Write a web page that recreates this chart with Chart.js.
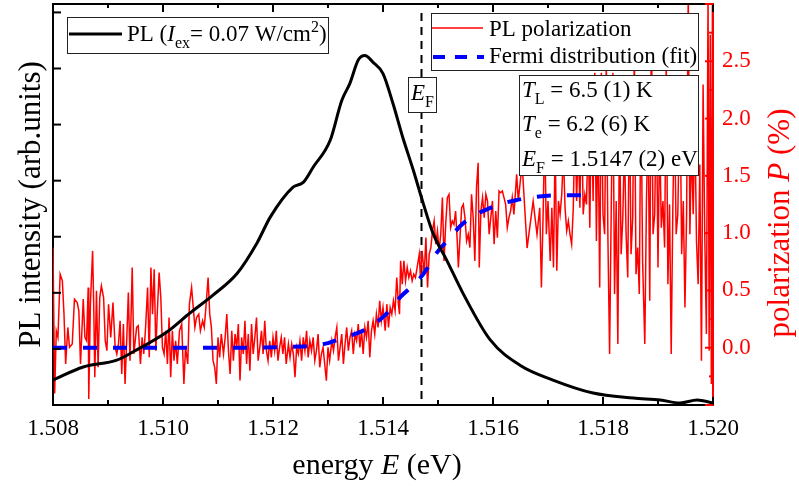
<!DOCTYPE html>
<html>
<head>
<meta charset="utf-8">
<script src="https://cdn.jsdelivr.net/npm/chart.js@4.4.1/dist/chart.umd.min.js"></script>
<style>
  html, body { margin: 0; padding: 0; background: #fff; }
  canvas { display: block; }
</style>
</head>
<body>
<canvas id="chart" width="799" height="486"></canvas>
<script>
// PL spectrum (left axis, arb. units)
const plEnergy = [
  1.50800, 1.50855, 1.50916, 1.50945, 1.51007, 1.51049, 1.51091, 1.51135, 1.51171, 1.51195,
  1.51236, 1.51255, 1.51273, 1.51304, 1.51325, 1.51340, 1.51355, 1.51367, 1.51382, 1.51400,
  1.51418, 1.51436, 1.51455, 1.51473, 1.51491, 1.51516, 1.51545, 1.51595, 1.51649, 1.51709,
  1.51782, 1.51855, 1.51904, 1.51940, 1.51971, 1.52000
];
const plIntensity = [
  0.445, 0.677, 0.80, 0.944, 1.30, 1.64, 1.96, 2.35, 2.89, 3.35,
  3.88, 3.97, 4.24, 4.72, 5.43, 5.74, 6.15, 6.23, 6.11, 5.91,
  5.38, 4.77, 4.19, 3.60, 3.06, 2.58, 2.00, 1.16, 0.71, 0.445,
  0.214, 0.125, 0.089, 0.036, 0.089, 0.036
];

// PL polarization (right axis, %)
const polEnergy = [
  1.50800, 1.50803, 1.50806, 1.50809, 1.50813, 1.50817, 1.50820, 1.50823, 1.50827, 1.50830,
  1.50835, 1.50839, 1.50844, 1.50847, 1.50850, 1.50855, 1.50858, 1.50861, 1.50864, 1.50865,
  1.50868, 1.50872, 1.50874, 1.50876, 1.50879, 1.50882, 1.50885, 1.50888, 1.50892, 1.50895,
  1.50898, 1.50901, 1.50905, 1.50909, 1.50913, 1.50916, 1.50919, 1.50922, 1.50925, 1.50928,
  1.50931, 1.50934, 1.50937, 1.50940, 1.50944, 1.50947, 1.50952, 1.50955, 1.50959, 1.50962,
  1.50965, 1.50968, 1.50972, 1.50975, 1.50978, 1.50981, 1.50984, 1.50987, 1.50990, 1.50993,
  1.50996, 1.50999, 1.51002, 1.51005, 1.51008, 1.51011, 1.51014, 1.51017, 1.51020, 1.51023,
  1.51026, 1.51030, 1.51034, 1.51038, 1.51041, 1.51045, 1.51048, 1.51052, 1.51055, 1.51058,
  1.51061, 1.51065, 1.51068, 1.51072, 1.51075, 1.51078, 1.51082, 1.51085, 1.51088, 1.51091,
  1.51094, 1.51097, 1.51100, 1.51103, 1.51106,
  1.51110, 1.51113, 1.51116, 1.51119, 1.51122, 1.51125, 1.51128, 1.51131, 1.51134, 1.51137,
  1.51140, 1.51143, 1.51146, 1.51149, 1.51152, 1.51155, 1.51158, 1.51161, 1.51164, 1.51167,
  1.51170, 1.51173, 1.51176, 1.51179, 1.51182, 1.51185, 1.51188, 1.51191, 1.51194, 1.51197,
  1.51200, 1.51203, 1.51206, 1.51209, 1.51212, 1.51215, 1.51218, 1.51221, 1.51224, 1.51228,
  1.51231, 1.51234, 1.51237, 1.51240, 1.51243, 1.51246, 1.51249, 1.51252, 1.51255, 1.51258,
  1.51261, 1.51264, 1.51267, 1.51270, 1.51273, 1.51276, 1.51279, 1.51282, 1.51285, 1.51288,
  1.51291, 1.51294, 1.51297, 1.51300, 1.51303, 1.51307, 1.51310, 1.51313, 1.51316, 1.51319,
  1.51322, 1.51325, 1.51328, 1.51331, 1.51334, 1.51337, 1.51340, 1.51343, 1.51346, 1.51349,
  1.51352, 1.51355, 1.51358, 1.51361, 1.51364, 1.51367, 1.51370, 1.51373, 1.51376, 1.51379,
  1.51382, 1.51385, 1.51388, 1.51391, 1.51394, 1.51397, 1.51400, 1.51404, 1.51407, 1.51410,
  1.51413, 1.51416, 1.51419, 1.51422, 1.51425, 1.51428, 1.51430, 1.51432, 1.51435, 1.51438,
  1.51441, 1.51444, 1.51447, 1.51450, 1.51453, 1.51456, 1.51459, 1.51462, 1.51466, 1.51468,
  1.51471, 1.51475, 1.51478, 1.51481, 1.51484, 1.51487, 1.51490, 1.51493, 1.51496, 1.51499,
  1.51502, 1.51505, 1.51508, 1.51511, 1.51514, 1.51517, 1.51520, 1.51523, 1.51526, 1.51529,
  1.51532, 1.51535, 1.51537, 1.51540, 1.51543, 1.51546, 1.51549, 1.51552, 1.51555, 1.51558,
  1.51561, 1.51564, 1.51567, 1.51570, 1.51573, 1.51575, 1.51578, 1.51581, 1.51584, 1.51587,
  1.51590, 1.51593, 1.51596, 1.51599, 1.51602, 1.51605, 1.51608, 1.51611, 1.51614, 1.51617,
  1.51620, 1.51623, 1.51626, 1.51629, 1.51632, 1.51635, 1.51638, 1.51641, 1.51643, 1.51646,
  1.51649, 1.51653, 1.51662, 1.51673, 1.51680,
  1.51685, 1.51688, 1.51691, 1.51694, 1.51697, 1.51700, 1.51704, 1.51707, 1.51710, 1.51713,
  1.51716, 1.51719, 1.51722, 1.51725, 1.51728, 1.51731, 1.51734, 1.51737, 1.51740, 1.51743,
  1.51746, 1.51749, 1.51752, 1.51755, 1.51758, 1.51761, 1.51764, 1.51767, 1.51770, 1.51773,
  1.51776, 1.51779, 1.51782, 1.51785, 1.51788, 1.51791, 1.51794, 1.51797, 1.51800, 1.51803,
  1.51806, 1.51809, 1.51812, 1.51815, 1.51818, 1.51821, 1.51824, 1.51827, 1.51830, 1.51833,
  1.51836, 1.51839, 1.51842, 1.51845, 1.51848, 1.51851, 1.51854, 1.51857, 1.51860, 1.51863,
  1.51866, 1.51869, 1.51872, 1.51876, 1.51879, 1.51882, 1.51885, 1.51888, 1.51891, 1.51894,
  1.51897, 1.51900, 1.51903, 1.51906, 1.51909, 1.51912, 1.51915, 1.51918, 1.51921, 1.51924,
  1.51927, 1.51930, 1.51933, 1.51936, 1.51940, 1.51943, 1.51946, 1.51949, 1.51952, 1.51955,
  1.51958, 1.51961, 1.51964, 1.51967, 1.51970, 1.51973, 1.51976, 1.51979, 1.51982, 1.51985,
  1.51988, 1.51991, 1.51993, 1.51995, 1.51997, 1.51999, 1.52000
];
const polValue = [
  0.874, -0.400, 0.148, 0.090, 0.642, 0.584, 0.293, -0.142, 0.177, 0.003,
  0.032, 0.424, 0.395, 0.322, -0.142, 0.424, 0.090, 0.061, 0.526, -0.447,
  0.380, 0.845, 0.380, -0.258, 0.497, -0.171, 0.438, 0.540, 0.438, 0.061,
  -0.026, 0.380, 0.090, 0.395, 0.003, -0.055, 0.032, 0.235, -0.229, 0.206,
  -0.316, 0.061, 0.482, -0.113, 0.700, -0.055, 0.177, 0.192, -0.142, 0.090,
  -0.055, 0.148, 0.526, -0.084, 0.700, 0.293, 0.685, -0.026, 0.351, 0.656,
  0.438, 0.003, -0.055, 0.148, -0.142, 0.264, -0.258, 0.148, -0.113, 0.061,
  -0.142, 0.148, 0.206, -0.316, 0.003, -0.142, 0.380, 0.526, 0.351, 0.177,
  0.264, 0.293, 0.148, 0.235, 0.177, 0.351, 0.613, 0.293, 0.177, -0.113,
  -0.171, -0.316, 0.090, -0.084, 0.119,
  -0.055, 0.090, 0.293, -0.026, -0.229, 0.148, -0.113, 0.119, 0.003, 0.206,
  -0.287, 0.090, -0.055, 0.235, -0.142, 0.119, -0.200, 0.206, -0.055, 0.090,
  0.264, -0.113, 0.003, 0.148, -0.055, 0.235, -0.026, -0.113, 0.061, -0.084,
  0.090, -0.026, 0.148, -0.113, 0.003, 0.090, -0.055, 0.090, -0.142, 0.032,
  -0.084, 0.032, -0.055, -0.258, 0.003, -0.055, 0.061, -0.113, 0.090, -0.026,
  0.148, -0.084, 0.061, -0.026, 0.090, -0.113, -0.026, 0.119, -0.171, -0.055,
  0.003, -0.142, -0.287, 0.003, -0.113, 0.061, -0.026, 0.090, 0.177, -0.113,
  0.003, 0.119, -0.142, 0.032, 0.177, -0.026, 0.090, 0.148, -0.055, 0.119,
  0.061, 0.206, 0.003, 0.148, -0.055, 0.177, 0.090, 0.235, -0.084, 0.148,
  0.235, 0.119, 0.293, 0.177, 0.409, 0.235, 0.351, 0.148, 0.380, 0.177,
  0.351, 0.293, 0.409, 0.322, 0.613, 0.380, 0.293, 0.758, 0.555, 0.758,
  0.584, 0.700, 0.613, 0.671, 0.584, 0.642, 0.613, 0.700, 0.816, 0.613,
  0.845, 0.642, 0.961, 0.526, 0.816, 0.874, 1.019, 1.106, 0.903, 1.019,
  0.845, 0.990, 1.310, 0.758, 1.077, 1.310, 1.339, 1.048, 1.106, 1.077,
  1.193, 0.932, 0.700, 0.961, 1.222, 1.251, 1.135, 0.932, 0.990, 0.874,
  1.339, 1.135, 0.758, 1.397, 1.614, 0.700, 1.193, 1.310, 1.135, 1.339,
  1.281, 0.990, 1.135, 1.281, 0.903, 1.193, 0.961, 1.368, 1.353, 1.368,
  1.310, 1.251, 1.048, 1.135, 1.193, 1.310, 1.164, 1.368, 1.513, 1.281,
  1.426, 1.600, 0.870, 1.280, 0.990,
  1.222, 0.526, 1.135, 1.900, 0.990, 1.281, 0.758, 1.222, 0.700, 1.800,
  0.671, 1.281, 1.164, 1.339, 1.700, 1.222, 1.019, 1.106, 0.990, 0.903,
  1.222, 2.000, 1.281, 1.800, 1.222, 2.100, 1.164, 1.339, 1.251, 1.900,
  1.048, 2.200, 1.281, 2.400, 0.932, 2.000, 0.526, 2.400, 1.164, 0.990,
  2.500, 0.932, -0.055, 1.222, 2.400, 0.468, 1.281, 0.032, 2.000, 0.816,
  1.135, 1.800, 0.990, 0.613, 2.200, 0.816, 1.135, 2.600, 0.642, 0.874,
  0.468, 2.300, 0.758, 0.032, 1.281, 2.000, 0.409, 2.900, 0.990, 1.164,
  2.200, 0.700, 1.900, 1.048, 1.281, 0.874, 2.500, 0.555, 1.251, -0.055,
  1.222, 2.100, 0.990, 1.164, 2.300, 0.816, 1.281, 0.351, 1.164, 3.100,
  0.990, 1.800, 1.164, 2.000, 0.932, 0.555, 1.600, -0.113, 2.297, 0.990,
  0.119, 3.100, -0.026, 2.732, -0.316, 3.100, -0.600
];

// Fermi distribution fit (right axis, %)
const fitEnergy = [
  1.50800, 1.51100, 1.51249, 1.51300, 1.51318, 1.51349, 1.51373, 1.51398, 1.51413, 1.51431,
  1.51449, 1.51473, 1.51498, 1.51522, 1.51540, 1.51564, 1.51595, 1.51618, 1.51644, 1.51667,
  1.51722, 1.51780
];
const fitValue = [
  0.00, 0.00, 0.01, 0.04, 0.07, 0.12, 0.17, 0.26, 0.33, 0.44,
  0.52, 0.64, 0.83, 0.96, 1.06, 1.15, 1.22, 1.26, 1.29, 1.31,
  1.33, 1.33
];

const fermiLevel = 1.5147;

const energyTicks = [1.508, 1.510, 1.512, 1.514, 1.516, 1.518, 1.520];
const intensityTicks = [0, 1, 2, 3, 4, 5, 6, 7];
const polarizationTicks = [-0.5, 0, 0.5, 1.0, 1.5, 2.0, 2.5, 3.0];

const SERIF = "'Liberation Serif', 'Times New Roman', serif";

const toPoints = (xs, ys) => xs.map((x, i) => ({ x, y: ys[i] }));
const font = (size, italic) => (italic ? 'italic ' : '') + size + 'px ' + SERIF;

// text runs: [text, kind] with kind n / i / sub / sup
function drawRich(ctx, parts, x, y, size, align) {
  const small = Math.round(size * 0.68);
  const runs = parts.map(([t, k]) => {
    const f = font(k === 'sub' || k === 'sup' ? small : size, k === 'i');
    ctx.font = f;
    const dy = k === 'sub' ? size * 0.3 : k === 'sup' ? -size * 0.38 : 0;
    return { t, f, dy, w: ctx.measureText(t).width };
  });
  const total = runs.reduce((s, r) => s + r.w, 0);
  let cx = align === 'center' ? x - total / 2 : x;
  ctx.textAlign = 'left';
  ctx.textBaseline = 'alphabetic';
  runs.forEach(r => {
    ctx.font = r.f;
    ctx.fillText(r.t, cx, y + r.dy);
    cx += r.w;
  });
}

function seg(ctx, x1, y1, x2, y2) {
  ctx.beginPath();
  ctx.moveTo(x1, y1);
  ctx.lineTo(x2, y2);
  ctx.stroke();
}

function box(ctx, x, y, w, h) {
  ctx.fillStyle = '#fff';
  ctx.fillRect(x, y, w, h);
  ctx.strokeStyle = '#222';
  ctx.lineWidth = 1;
  ctx.setLineDash([]);
  ctx.strokeRect(x + 0.5, y + 0.5, w, h);
}

const midpoints = vals => vals.slice(1).map((v, i) => (v + vals[i]) / 2);

const decorations = {
  id: 'decorations',
  beforeDatasetsDraw(chart) {
    const { ctx, chartArea: a, scales: { x } } = chart;
    const px = x.getPixelForValue(fermiLevel);
    ctx.save();
    ctx.strokeStyle = '#000';
    ctx.lineWidth = 2;
    ctx.setLineDash([8, 6]);
    seg(ctx, px, a.top + 9, px, a.bottom);
    ctx.restore();
  },
  afterDraw(chart) {
    const { ctx, chartArea: a, scales: { x, y, y1 } } = chart;
    ctx.save();

    // top frame and inward ticks
    ctx.strokeStyle = '#000';
    ctx.lineWidth = 2;
    seg(ctx, a.left - 1, a.top, a.right, a.top);
    energyTicks.forEach(v => {
      const p = x.getPixelForValue(v);
      seg(ctx, p, a.bottom, p, a.bottom - 8);
      seg(ctx, p, a.top, p, a.top + 8);
    });
    midpoints(energyTicks).forEach(v => {
      const p = x.getPixelForValue(v);
      seg(ctx, p, a.bottom, p, a.bottom - 5);
      seg(ctx, p, a.top, p, a.top + 4);
    });
    intensityTicks.forEach(v => {
      const p = y.getPixelForValue(v);
      seg(ctx, a.left, p, a.left + 8, p);
    });
    ctx.strokeStyle = '#ff0000';
    polarizationTicks.forEach(v => {
      const p = y1.getPixelForValue(v);
      seg(ctx, a.right, p, a.right - 8, p);
    });
    midpoints(polarizationTicks).forEach(v => {
      const p = y1.getPixelForValue(v);
      seg(ctx, a.right, p, a.right - 4, p);
    });

    // E_F marker label
    box(ctx, 408, 77, 28, 35);
    ctx.fillStyle = '#000';
    drawRich(ctx, [['E', 'i'], ['F', 'sub']], 411, 100, 23);

    // PL legend
    box(ctx, 67, 17, 261, 36);
    ctx.strokeStyle = '#000';
    ctx.lineWidth = 3;
    seg(ctx, 69, 34, 122, 34);
    ctx.fillStyle = '#000';
    drawRich(ctx, [['PL (', 'n'], ['I', 'i'], ['ex', 'sub'], ['= 0.07 W/cm', 'n'], ['2', 'sup'], [')', 'n']], 127, 41, 23);

    // polarization legend
    box(ctx, 431, 13, 267, 57);
    ctx.strokeStyle = '#ff0000';
    ctx.lineWidth = 1.5;
    seg(ctx, 432, 28, 483, 28);
    ctx.strokeStyle = '#0000ff';
    ctx.lineWidth = 4;
    ctx.setLineDash([12, 10]);
    seg(ctx, 433, 57, 484, 57);
    ctx.setLineDash([]);
    ctx.fillStyle = '#000';
    drawRich(ctx, [['PL polarization', 'n']], 489, 36, 23);
    drawRich(ctx, [['Fermi distribution (fit)', 'n']], 489, 63, 23);

    // fit parameters
    box(ctx, 519, 75, 179, 100);
    ctx.fillStyle = '#000';
    drawRich(ctx, [['T', 'i'], ['L', 'sub'], [' = 6.5 (1) K', 'n']], 522, 97, 23);
    drawRich(ctx, [['T', 'i'], ['e', 'sub'], [' = 6.2 (6) K', 'n']], 522, 131, 23);
    drawRich(ctx, [['E', 'i'], ['F', 'sub'], [' = 1.5147 (2) eV', 'n']], 522, 166, 23);

    // axis titles
    drawRich(ctx, [['energy ', 'n'], ['E', 'i'], [' (eV)', 'n']], (a.left + a.right) / 2 - 6, 474, 30, 'center');

    ctx.save();
    ctx.translate(40, (a.top + a.bottom) / 2);
    ctx.rotate(-Math.PI / 2);
    drawRich(ctx, [['PL intensity (arb.units)', 'n']], 0, 0, 31, 'center');
    ctx.restore();

    ctx.save();
    ctx.translate(789, 223);
    ctx.rotate(-Math.PI / 2);
    ctx.fillStyle = '#ff0000';
    drawRich(ctx, [['polarization ', 'n'], ['P', 'i'], [' (%)', 'n']], 0, 0, 31, 'center');
    ctx.restore();

    ctx.restore();
  }
};

const noPad = s => {
  s.paddingTop = 0;
  s.paddingBottom = 0;
  s.paddingLeft = 0;
  s.paddingRight = 0;
};

new Chart(document.getElementById('chart'), {
  type: 'scatter',
  data: {
    datasets: [
      {
        label: 'PL',
        data: toPoints(plEnergy, plIntensity),
        yAxisID: 'y',
        showLine: true,
        borderColor: '#000',
        borderWidth: 3,
        pointRadius: 0,
        cubicInterpolationMode: 'monotone',
        order: 0
      },
      {
        label: 'Fermi distribution (fit)',
        data: toPoints(fitEnergy, fitValue),
        yAxisID: 'y1',
        showLine: true,
        borderColor: '#0000ff',
        borderWidth: 4,
        borderDash: [14, 16],
        pointRadius: 0,
        cubicInterpolationMode: 'monotone',
        order: 1
      },
      {
        label: 'PL polarization',
        data: toPoints(polEnergy, polValue),
        yAxisID: 'y1',
        showLine: true,
        borderColor: '#ff0000',
        borderWidth: 1.5,
        pointRadius: 0,
        tension: 0,
        order: 2
      }
    ]
  },
  options: {
    responsive: false,
    animation: false,
    devicePixelRatio: 1,
    layout: { padding: { top: 4, right: 0, bottom: 0, left: 0 } },
    plugins: { legend: { display: false }, tooltip: { enabled: false } },
    scales: {
      x: {
        type: 'linear',
        position: 'bottom',
        min: 1.508,
        max: 1.520,
        afterBuildTicks: s => { s.ticks = energyTicks.map(value => ({ value })); },
        afterFit: s => { s.height = 81; noPad(s); },
        grid: { display: false, drawTicks: false },
        border: { color: '#000', width: 2 },
        ticks: {
          color: '#000',
          font: { family: SERIF, size: 23 },
          padding: 10,
          autoSkip: false,
          maxRotation: 0,
          callback: v => v.toFixed(3)
        }
      },
      y: {
        type: 'linear',
        position: 'left',
        min: 0,
        max: 7.15,
        afterBuildTicks: s => { s.ticks = intensityTicks.map(value => ({ value })); },
        afterFit: s => { s.width = 53; noPad(s); },
        grid: { display: false, drawTicks: false },
        border: { color: '#000', width: 2 },
        ticks: { display: false }
      },
      y1: {
        type: 'linear',
        position: 'right',
        min: -0.5,
        max: 3.0,
        afterBuildTicks: s => { s.ticks = polarizationTicks.map(value => ({ value })); },
        afterFit: s => { s.width = 86; noPad(s); },
        grid: { display: false, drawTicks: false },
        border: { color: '#ff0000', width: 2 },
        ticks: {
          color: '#ff0000',
          font: { family: SERIF, size: 23 },
          padding: 9,
          autoSkip: false,
          callback: v => (v < 0 || v > 2.75) ? '' : v.toFixed(1)
        }
      }
    }
  },
  plugins: [decorations]
});
</script>
</body>
</html>
